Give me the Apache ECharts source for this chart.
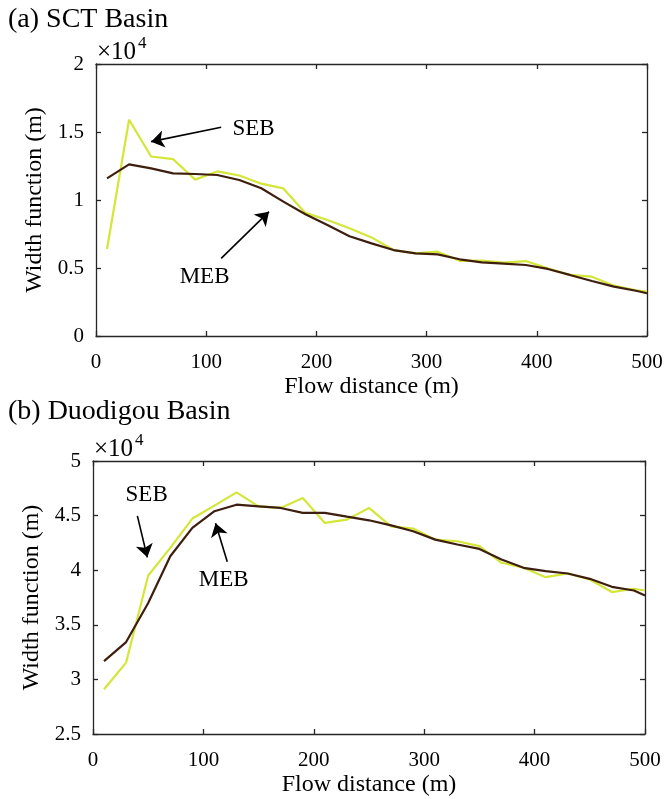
<!DOCTYPE html>
<html>
<head>
<meta charset="utf-8">
<script src="https://cdn.jsdelivr.net/npm/echarts@6/dist/echarts.min.js"></script>
<style>
  html, body { margin: 0; padding: 0; background: #fff; }
  #chart { width: 667px; height: 799px; }
</style>
</head>
<body>
<div id="chart"></div>
<script>
// Flow distance (m)
const distances = [10, 30, 50, 70, 90, 110, 130, 150, 170, 190, 210, 230, 250, 270, 290, 310, 330, 350, 370, 390, 410, 430, 450, 470, 490, 500];
// Width function, in units of 10^4 m
const sctSEB = [0.64, 1.59, 1.32, 1.30, 1.15, 1.21, 1.18, 1.12, 1.085, 0.905, 0.853, 0.792, 0.725, 0.632, 0.608, 0.62, 0.553, 0.554, 0.539, 0.551, 0.497, 0.449, 0.436, 0.37, 0.336, 0.326];
const sctMEB = [1.159, 1.262, 1.233, 1.196, 1.191, 1.184, 1.147, 1.086, 0.988, 0.895, 0.816, 0.733, 0.681, 0.632, 0.608, 0.600, 0.564, 0.542, 0.532, 0.522, 0.493, 0.449, 0.404, 0.363, 0.333, 0.314];
const duoSEB = [2.91, 3.154, 3.952, 4.205, 4.473, 4.591, 4.713, 4.585, 4.570, 4.662, 4.433, 4.463, 4.570, 4.402, 4.381, 4.28, 4.265, 4.22, 4.068, 4.022, 3.936, 3.97, 3.915, 3.80, 3.83, 3.814];
const duoMEB = [3.168, 3.342, 3.70, 4.128, 4.388, 4.54, 4.60, 4.585, 4.57, 4.525, 4.525, 4.49, 4.457, 4.41, 4.357, 4.28, 4.235, 4.195, 4.098, 4.022, 3.991, 3.970, 3.921, 3.848, 3.814, 3.769];
// Axis ticks
const xTicks = [0, 100, 200, 300, 400, 500];
const sctYTicks = [0, 0.5, 1, 1.5, 2];
const duoYTicks = [2.5, 3, 3.5, 4, 4.5, 5];
// Annotations (data coordinates)
const sctSEBArrow = [[113.6, 1.535], [50, 1.429]];
const sctSEBText = [143, 1.52];
const sctMEBArrow = [[113.6, 0.571], [157, 0.914]];
const sctMEBText = [98.5, 0.434];
const duoSEBArrow = [[40.2, 4.497], [49.2, 4.118]];
const duoSEBText = [48.6, 4.69];
const duoMEBArrow = [[121.6, 4.077], [111, 4.43]];
const duoMEBText = [118.3, 3.909];

const FONT = '"Liberation Serif", "Times New Roman", serif';
const AX = '#262626';
const SEB_COLOR = '#d4e638';
const MEB_COLOR = '#3e1e0e';

function pairs(xs, ys) { return xs.map((x, i) => [x, ys[i]]); }

function xAxisMain(gridIndex) {
  return {
    type: 'value', gridIndex: gridIndex, position: 'bottom',
    min: xTicks[0], max: xTicks[xTicks.length - 1], interval: xTicks[1] - xTicks[0],
    name: 'Flow distance (m)', nameLocation: 'middle', nameGap: 39,
    nameTextStyle: { fontFamily: FONT, fontSize: 24, color: '#000' },
    axisLine: { show: true, onZero: false, lineStyle: { color: AX, width: 1.3 } },
    axisTick: { show: true, inside: true, length: 5, lineStyle: { color: AX, width: 1.3 } },
    axisLabel: { fontFamily: FONT, fontSize: 21, color: '#000', margin: 16 },
    splitLine: { show: false }
  };
}
function xAxisMirror(gridIndex) {
  return {
    type: 'value', gridIndex: gridIndex, position: 'top',
    min: xTicks[0], max: xTicks[xTicks.length - 1], interval: xTicks[1] - xTicks[0],
    axisLine: { show: true, onZero: false, lineStyle: { color: AX, width: 1.3 } },
    axisTick: { show: true, inside: true, length: 5, lineStyle: { color: AX, width: 1.3 } },
    axisLabel: { show: false }, splitLine: { show: false }
  };
}
function yAxisMain(gridIndex, ticks) {
  return {
    type: 'value', gridIndex: gridIndex, position: 'left',
    min: ticks[0], max: ticks[ticks.length - 1], interval: ticks[1] - ticks[0],
    name: 'Width function (m)', nameLocation: 'middle', nameGap: 45,
    nameTextStyle: { fontFamily: FONT, fontSize: 24, color: '#000' },
    axisLine: { show: true, onZero: false, lineStyle: { color: AX, width: 1.3 } },
    axisTick: { show: true, inside: true, length: 5, lineStyle: { color: AX, width: 1.3 } },
    axisLabel: { fontFamily: FONT, fontSize: 21, color: '#000', margin: 12 },
    splitLine: { show: false }
  };
}
function yAxisMirror(gridIndex, ticks) {
  return {
    type: 'value', gridIndex: gridIndex, position: 'right',
    min: ticks[0], max: ticks[ticks.length - 1], interval: ticks[1] - ticks[0],
    axisLine: { show: true, onZero: false, lineStyle: { color: AX, width: 1.3 } },
    axisTick: { show: true, inside: true, length: 5, lineStyle: { color: AX, width: 1.3 } },
    axisLabel: { show: false }, splitLine: { show: false }
  };
}

function annot(arrows, texts) {
  return {
    markLine: {
      silent: true, symbol: ['none', 'arrow'], symbolSize: 13,
      label: { show: false },
      lineStyle: { color: '#000', width: 1.6, type: 'solid' },
      emphasis: { disabled: true },
      data: arrows.map(a => [{ coord: a[0] }, { coord: a[1] }])
    },
    markPoint: {
      silent: true, symbol: 'circle', symbolSize: 1,
      itemStyle: { color: 'rgba(0,0,0,0)' },
      label: { show: true, position: 'inside', fontFamily: FONT, fontSize: 23, color: '#000',
               formatter: p => p.name },
      data: texts.map(t => ({ name: t[0], coord: t[1] }))
    }
  };
}

function lineSeries(name, xi, yi, data, color, width, z, extra) {
  return Object.assign({
    name: name, type: 'line', xAxisIndex: xi, yAxisIndex: yi,
    data: data, showSymbol: false, symbol: 'none', smooth: false, z: z,
    lineStyle: { color: color, width: width }, itemStyle: { color: color },
    emphasis: { disabled: true }
  }, extra || {});
}

const chart = echarts.init(document.getElementById('chart'), null, { renderer: 'canvas' });
chart.setOption({
  animation: false,
  backgroundColor: '#fff',
  title: [
    { text: '(a) SCT Basin', left: 8, top: 6, padding: 0, textStyle: { fontFamily: FONT, fontSize: 28, fontWeight: 'normal', color: '#000' } },
    { text: '(b) Duodigou Basin', left: 8, top: 398, padding: 0, textStyle: { fontFamily: FONT, fontSize: 28, fontWeight: 'normal', color: '#000' } }
  ],
  graphic: [
    { type: 'text', left: 97, top: 40, style: { text: '×10', font: '25px ' + FONT, fill: '#000' } },
    { type: 'text', left: 138, top: 35, style: { text: '4', font: '17px ' + FONT, fill: '#000' } },
    { type: 'text', left: 94, top: 437, style: { text: '×10', font: '25px ' + FONT, fill: '#000' } },
    { type: 'text', left: 135, top: 432, style: { text: '4', font: '17px ' + FONT, fill: '#000' } }
  ],
  grid: [
    { left: 96, top: 64, width: 551, height: 272, containLabel: false },
    { left: 93, top: 461, width: 552, height: 273, containLabel: false }
  ],
  xAxis: [xAxisMain(0), xAxisMirror(0), xAxisMain(1), xAxisMirror(1)],
  yAxis: [yAxisMain(0, sctYTicks), yAxisMirror(0, sctYTicks), yAxisMain(1, duoYTicks), yAxisMirror(1, duoYTicks)],
  series: [
    lineSeries('SEB', 0, 0, pairs(distances, sctSEB), SEB_COLOR, 2.2, 2,
      annot([sctSEBArrow, sctMEBArrow], [['SEB', sctSEBText], ['MEB', sctMEBText]])),
    lineSeries('MEB', 0, 0, pairs(distances, sctMEB), MEB_COLOR, 2.2, 3),
    lineSeries('SEB', 2, 2, pairs(distances, duoSEB), SEB_COLOR, 2.2, 2,
      annot([duoSEBArrow, duoMEBArrow], [['SEB', duoSEBText], ['MEB', duoMEBText]])),
    lineSeries('MEB', 2, 2, pairs(distances, duoMEB), MEB_COLOR, 2.2, 3)
  ]
});
</script>
</body>
</html>
